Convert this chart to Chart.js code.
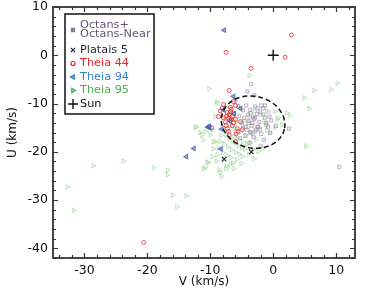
<!DOCTYPE html>
<html lang="en">
<head>
<meta charset="UTF-8">
<title>UV plane</title>
<script src="https://cdn.jsdelivr.net/npm/chart.js"></script>
<style>
  html, body { margin: 0; padding: 0; background: #fff; }
  #wrap { width: 366px; height: 293px; }
</style>
</head>
<body>
<div id="wrap"><canvas id="myChart" width="366" height="293"></canvas></div>
<script>
// V, U values in km/s
const octansV = [-3.5, -4.1, 10.5, -3.0, 2.5, -1.3, -4.3, -3.7, -2.9, -2.5, -1.9, -1.3, -0.6, -3.2, -4.0, -4.8, -2.4, -3.5, -1.1,
  -2.1, -1.6, -2.9, -3.3, -2.5, -1.1, -0.8, -3.7, -2.1, -1.6, -4.4, -3.9, -2.8,
  -4.6, -3.9, -3.0, -2.2, -3.4, -4.1, -2.8, -1.9, -3.1, -4.4, -5.0, -5.4, -3.6, -2.6, -0.3, 0.4, -0.5, -1.5, -3.8, -5.3, -2.0, -4.8, -5.6, -6.0];
const octansU = [-6.0, -7.5, -23.1, -8.3, -15.2, -10.4, -10.4, -11.3, -10.6, -11.0, -10.4, -12.9, -12.7, -12.9, -12.3, -15.0, -14.8, -16.0, -14.4,
  -11.7, -12.3, -12.9, -14.0, -14.8, -14.0, -14.8, -16.0, -15.4, -11.0, -14.8, -14.0, -15.4,
  -13.0, -13.6, -13.2, -13.8, -14.6, -15.5, -15.8, -16.3, -17.0, -16.7, -14.0, -12.6, -12.0, -12.2, -13.5, -14.6, -16.1, -17.5, -18.2, -17.2, -18.8, -11.4, -10.5, -9.3];

const platV = [-3.5, -7.8];
const platU = [-20.0, -21.5];

const t44V = [2.9, -7.5, 1.9, -3.5, -7.0, -20.6, -7.9, -8.4, -8.7, -8.1, -7.3, -6.8, -6.5, -7.0, -6.7, -7.1, -6.8, -6.3, -6.0, -5.2,
  -6.3, -5.7, -4.9, -7.3, -7.1, -5.6, -6.0, -6.3, -7.6, -7.5, -6.5, -9.8, -7.0, -6.0, -5.9, -6.8, -7.4, -6.6, -7.9];
const t44U = [4.2, 0.6, -0.4, -2.7, -7.3, -38.8, -10.2, -11.5, -12.7, -11.0, -11.9, -11.7, -12.7, -12.3, -11.2, -13.0, -13.5, -12.0, -13.3, -13.75,
  -14.0, -15.2, -15.4, -15.2, -15.8, -15.8, -10.4, -9.6, -13.8, -14.6, -14.6, -15.0, -16.5, -17.9, -16.3, -10.8, -12.6, -13.2, -12.9];

const t94V = [-7.8, -6.3, -5.2, -7.9, -6.2, -6.8, -10.2, -10.4, -10.1, -8.2, -12.6, -13.8, -8.3];
const t94U = [5.2, -8.5, -11.0, -11.3, -12.1, -13.7, -14.7, -14.9, -15.0, -15.3, -19.3, -21.0, -19.4];

const t95V = [-28.6, -23.8, -19.0, -16.8, -16.8, -32.7, -31.7, -16.0, -15.3, -13.8,
  -10.2, -3.8, 6.5, 9.2, 10.2, 4.9, 5.7, 2.2, 2.6, -9.0, -8.9, -9.2, -12.2, -12.4, -11.4, -10.0, -9.2, 0.3, -0.8, 1.4, 0.3, 0.6, 0.8, -0.5, 5.2, -1.7,
  -11.6, -11.1, -9.5, -8.4, -10.7, -9.7,
  -11.1, -10.3, -10.5, -8.4, -8.2, -7.5, -6.3, -6.8, -9.0, -9.5, -9.7, -10.8, -7.4, -8.6,
  -7.5, -7.0, -6.5, -6.0, -5.5, -5.0, -4.5, -6.2, -5.6, -4.8, -4.2, -7.8, -7.2, -6.6, -6.0, -5.4, -8.0, -7.3, -6.7, -5.8, -4.9, -3.9, -3.2, -3.6,
  -4.4, -5.2, -6.1, -6.9, -7.7, -8.3, -8.7, -8.9, -7.9, -6.4, -5.1, -3.0, -2.4, -2.7, -3.3, -4.0, -5.9, -7.1, -8.0, -6.8, -5.4, -7.5, -4.6, -3.8,
  -2.2, -1.4, -1.0, -2.0, -1.0, -3.0];
const t95U = [-22.9, -21.9, -23.3, -23.8, -24.8, -27.3, -32.1, -29.0, -31.4, -29.1,
  -6.9, -4.2, -7.3, -7.1, -5.8, -8.8, -11.0, -11.9, -12.5, -9.6, -10.0, -12.7, -14.8, -15.0, -16.5, -16.5, -17.9, -11.7, -11.7, -14.4, -15.0, -13.3, -12.9, -16.0, -18.8, -19.3,
  -16.0, -17.5, -17.9, -17.9, -15.8, -15.4,
  -23.5, -22.3, -22.1, -24.3, -25.1, -23.5, -23.5, -22.5, -21.9, -19.4, -21.0, -23.3, -22.9, -23.7,
  -16.5, -17.2, -17.8, -18.3, -18.8, -19.2, -19.5, -16.8, -17.4, -17.9, -18.4, -18.4, -19.0, -19.6, -20.1, -20.5, -20.2, -20.8, -21.2, -21.6, -21.0, -20.5, -19.6, -18.1,
  -16.6, -15.9, -15.2, -14.6, -15.5, -16.6, -19.2, -20.6, -21.7, -22.3, -22.4, -21.4, -19.9, -17.4, -16.3, -14.9, -13.8, -13.4, -13.0, -12.2, -11.0, -10.8, -13.6, -12.8,
  -15.0, -13.7, -15.5, -12.3, -11.5, -11.6];

const sunV = [0];
const sunU = [0];

const xTicks = [-30, -20, -10, 0, 10];
const yTicks = [10, 0, -10, -20, -30, -40];

// dashed ellipse round the core (data units)
const ringCenter = [-3.2, -13.85];
const ringRadius = [5.1, 5.35];

const pts = (vs, us) => vs.map((v, i) => ({ x: v, y: us[i] }));

const axisColor = '#333';

// frame, inward ticks, ellipse and legend
const decor = {
  id: 'decor',
  afterDatasetsDraw(chart) {
    const ctx = chart.ctx;
    const xs = chart.scales.x, ys = chart.scales.y;
    const cx = xs.getPixelForValue(ringCenter[0]);
    const cy = ys.getPixelForValue(ringCenter[1]);
    const rx = Math.abs(xs.getPixelForValue(ringCenter[0] + ringRadius[0]) - cx);
    const ry = Math.abs(ys.getPixelForValue(ringCenter[1] + ringRadius[1]) - cy);
    ctx.save();
    ctx.strokeStyle = '#111';
    ctx.lineWidth = 1.5;
    ctx.setLineDash([5, 3]);
    ctx.beginPath();
    ctx.ellipse(cx, cy, rx, ry, 0.22, 0, Math.PI * 2);
    ctx.stroke();
    ctx.restore();
  },
  afterDraw(chart) {
    const ctx = chart.ctx;
    const a = chart.chartArea;
    const xs = chart.scales.x, ys = chart.scales.y;
    ctx.save();
    ctx.strokeStyle = axisColor;
    ctx.lineWidth = 1.2;
    ctx.beginPath();
    for (let v = -34; v <= 12; v += 2) {
      const px = Math.round(xs.getPixelForValue(v)) + 0.5;
      const len = (v % 10 === 0) ? 5 : 3;
      ctx.moveTo(px, a.bottom); ctx.lineTo(px, a.bottom - len);
      ctx.moveTo(px, a.top); ctx.lineTo(px, a.top + len);
    }
    for (let u = -42; u <= 10; u += 2) {
      const py = Math.round(ys.getPixelForValue(u)) + 0.5;
      const len = (u % 10 === 0) ? 5 : 3;
      ctx.moveTo(a.left, py); ctx.lineTo(a.left + len, py);
      ctx.moveTo(a.right, py); ctx.lineTo(a.right - len, py);
    }
    ctx.stroke();
    ctx.lineWidth = 1.8;
    ctx.strokeRect(a.left, a.top, a.right - a.left, a.bottom - a.top);

    // legend box
    const bx = 65, by = 14, bw = 89, bh = 100;
    ctx.fillStyle = '#fff';
    ctx.fillRect(bx, by, bw, bh);
    ctx.strokeStyle = '#111';
    ctx.lineWidth = 1.5;
    ctx.strokeRect(bx, by, bw, bh);

    const mx = 73, tx = 80;
    ctx.font = '11.3px "DejaVu Sans"';
    ctx.textBaseline = 'middle';
    ctx.textAlign = 'left';
    const items = [
      { lines: ['Octans+', 'Octans-Near'], y: 30, color: '#66567a', style: 'rect', stroke: '#8a7a9a', fill: '#8a7a9a', r: 2.2, rot: 0 },
      { lines: ['Platais 5'], y: 50, color: '#1c2633', style: 'crossRot', stroke: '#1c2633', fill: '#1c2633', r: 3, rot: 0 },
      { lines: ['Theia 44'], y: 63.5, color: '#e8262a', style: 'circle', stroke: '#e8262a', fill: 'rgba(0,0,0,0)', r: 2.0, rot: 0 },
      { lines: ['Theia 94'], y: 77, color: '#3b82c4', style: 'triangle', stroke: '#3b82c4', fill: '#7aa9d8', r: 2.6, rot: -90 },
      { lines: ['Theia 95'], y: 90.5, color: '#4cae4c', style: 'triangle', stroke: '#4cae4c', fill: '#88cf88', r: 2.6, rot: 90 },
      { lines: ['Sun'], y: 104, color: '#111', style: 'cross', stroke: '#111', fill: '#111', r: 5, rot: 0 }
    ];
    items.forEach(it => {
      ctx.strokeStyle = it.stroke;
      ctx.fillStyle = it.fill;
      ctx.lineWidth = it.style === 'cross' ? 1.4 : 1.2;
      Chart.helpers.drawPoint(ctx, { pointStyle: it.style, radius: it.r, rotation: it.rot, borderWidth: ctx.lineWidth }, mx, it.y);
      ctx.fillStyle = it.color;
      if (it.lines.length === 2) {
        ctx.fillText(it.lines[0], tx, it.y - 4.5);
        ctx.fillText(it.lines[1], tx, it.y + 4.5);
      } else {
        ctx.fillText(it.lines[0], tx, it.y);
      }
    });
    ctx.restore();
  }
};

const ctx = document.getElementById('myChart');
const myChart = new Chart(ctx, {
  type: 'scatter',
  data: {
    datasets: [
      { label: 'Sun', data: pts(sunV, sunU), pointStyle: 'cross', pointRadius: 5.5, borderColor: '#111', borderWidth: 1.4, order: 0 },
      { label: 'Platais 5', data: pts(platV, platU), pointStyle: 'crossRot', pointRadius: 3.2, borderColor: '#2a3644', borderWidth: 1.2, order: 1 },
      { label: 'Theia 94', data: pts(t94V, t94U), pointStyle: 'triangle', rotation: -90, pointRadius: 2.5, borderColor: 'rgba(70,90,170,0.8)', backgroundColor: 'rgba(90,140,210,0.55)', borderWidth: 1.1, order: 2 },
      { label: 'Theia 44', data: pts(t44V, t44U), pointStyle: 'circle', pointRadius: 2.0, borderColor: 'rgba(232,40,45,0.8)', backgroundColor: 'rgba(255,255,255,0)', borderWidth: 1, order: 3 },
      { label: 'Octans', data: pts(octansV, octansU), pointStyle: 'rect', pointRadius: 2.3, borderColor: 'rgba(140,125,155,0.5)', backgroundColor: 'rgba(200,190,210,0.25)', borderWidth: 1, order: 4 },
      { label: 'Theia 95', data: pts(t95V, t95U), pointStyle: 'triangle', rotation: 90, pointRadius: 2.7, borderColor: 'rgba(95,185,95,0.35)', backgroundColor: 'rgba(160,220,160,0.15)', borderWidth: 1, order: 5 }
    ]
  },
  options: {
    responsive: false,
    animation: false,
    devicePixelRatio: 1,
    layout: { padding: { top: 7, right: 11, left: 0, bottom: 0 } },
    plugins: { legend: { display: false }, tooltip: { enabled: false } },
    scales: {
      x: {
        type: 'linear', min: -35, max: 13,
        afterFit: s => { s.height = 35; },
        afterBuildTicks: s => { s.ticks = xTicks.map(v => ({ value: v })); },
        grid: { display: false, drawTicks: false },
        border: { display: false },
        ticks: { color: '#111', padding: 5, font: { family: 'DejaVu Sans', size: 12.5 } },
        title: { display: true, text: 'V (km/s)', color: '#111', padding: { top: 0, bottom: 4 }, font: { family: 'DejaVu Sans', size: 12 } }
      },
      y: {
        type: 'linear', min: -42, max: 10,
        afterFit: s => { s.width = 53; s.paddingTop = 0; s.paddingBottom = 0; },
        afterBuildTicks: s => { s.ticks = yTicks.map(v => ({ value: v })); },
        grid: { display: false, drawTicks: false },
        border: { display: false },
        ticks: { color: '#111', padding: 5, font: { family: 'DejaVu Sans', size: 12.5 } },
        title: { display: true, text: 'U (km/s)', color: '#111', padding: { top: 6, bottom: 0 }, font: { family: 'DejaVu Sans', size: 12 } }
      }
    }
  },
  plugins: [decor]
});
</script>
</body>
</html>
